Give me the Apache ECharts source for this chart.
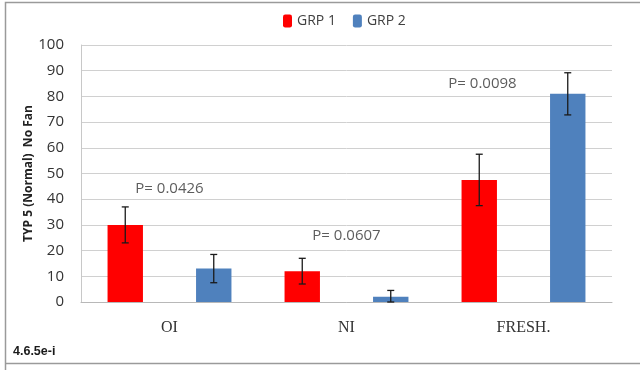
<!DOCTYPE html>
<html>
<head>
<meta charset="utf-8">
<script src="https://cdn.jsdelivr.net/npm/echarts@6/dist/echarts.min.js"></script>
<style>
  html, body { margin: 0; padding: 0; background: #fff; }
  #chart { width: 640px; height: 370px; }
</style>
</head>
<body>
<div id="chart"></div>
<script>
// Group means, error half-widths and p-values per condition
const categories = ['OI', 'NI', 'FRESH.'];
const grp1 = [30, 12, 47.5];
const grp2 = [13, 2, 81];
const grp1Err = [7, 5, 10];
const grp2Err = [5.5, 2.5, 8.2];
const pLabels = ['P= 0.0426', 'P= 0.0607', 'P= 0.0098'];
const pLabelY = [44, 25.7, 85];
const yTicks = [0, 10, 20, 30, 40, 50, 60, 70, 80, 90, 100];

const RED = '#FF0000';
const BLUE = '#4F81BD';
const BAR_W = 0.2;   // fraction of category band
const BAR_GAP = 1.5; // gap between bars, relative to bar width

function errorSeries(values, errs, side) {
  return {
    type: 'custom',
    silent: true,
    z: 5,
    data: values.map((v, i) => [i, v, errs[i]]),
    renderItem: function (params, api) {
      const i = api.value(0), v = api.value(1), e = api.value(2);
      const band = api.size([1, 0])[0];
      const off = side * band * BAR_W * (1 + BAR_GAP) / 2;
      const lo = Math.max(0, v - e);
      const top = api.coord([i, v + e]);
      const bot = api.coord([i, lo]);
      const x = top[0] + off;
      const cap = 3.5;
      const style = { stroke: '#1a1a1a', lineWidth: 1.3 };
      return {
        type: 'group',
        children: [
          { type: 'line', shape: { x1: x, y1: top[1], x2: x, y2: bot[1] }, style },
          { type: 'line', shape: { x1: x - cap, y1: top[1], x2: x + cap, y2: top[1] }, style },
          { type: 'line', shape: { x1: x - cap, y1: bot[1], x2: x + cap, y2: bot[1] }, style }
        ]
      };
    }
  };
}

const chart = echarts.init(document.getElementById('chart'), null, { renderer: 'canvas' });
chart.setOption({
  animation: false,
  backgroundColor: '#fff',
  graphic: [
    {
      type: 'polyline',
      shape: { points: [[5.5, 380], [5.5, 2.5], [645, 2.5]] },
      style: { stroke: '#9a9a9a', lineWidth: 1.5, fill: null }
    },
    {
      type: 'line',
      shape: { x1: 5, y1: 363.5, x2: 645, y2: 363.5 },
      style: { stroke: '#9a9a9a', lineWidth: 1.5 }
    },
    {
      type: 'text',
      left: 13, top: 345,
      style: { text: '4.6.5e-i', font: 'bold 12.5px "Liberation Sans", Arial, sans-serif', fill: '#1a1a1a' }
    }
  ],
  legend: {
    top: 9,
    left: 278,
    itemWidth: 9,
    itemHeight: 13,
    itemGap: 17,
    icon: 'roundRect',
    textStyle: { fontFamily: '"Open Sans", sans-serif', fontSize: 14, color: '#404040' },
    data: ['GRP 1', 'GRP 2']
  },
  grid: { left: 81, right: 28, top: 45, bottom: 68 },
  xAxis: {
    type: 'category',
    data: categories,
    axisLine: { lineStyle: { color: '#b8b8b8', width: 1 } },
    axisTick: { show: false },
    axisLabel: { margin: 18, fontFamily: '"Liberation Serif", "Times New Roman", serif', fontSize: 16, color: '#333' }
  },
  yAxis: {
    type: 'value',
    min: 0,
    max: 100,
    interval: 10,
    name: 'TYP 5 (Normal)  No Fan',
    nameLocation: 'middle',
    nameGap: 46,
    nameMoveOverlap: false,
    nameTextStyle: { fontFamily: '"Open Sans", sans-serif', fontWeight: 'bold', fontSize: 12, color: '#222' },
    axisLine: { show: true, lineStyle: { color: '#c8c8c8' } },
    axisTick: { show: false },
    splitLine: { lineStyle: { color: '#d0d0d0', width: 1 } },
    axisLabel: {
      margin: 17,
      fontFamily: '"Open Sans", sans-serif',
      fontSize: 15,
      color: '#333',
      formatter: v => (yTicks.includes(v) ? String(v) : '')
    }
  },
  series: [
    {
      name: 'GRP 1',
      type: 'bar',
      data: grp1,
      barWidth: (BAR_W * 100) + '%',
      barGap: (BAR_GAP * 100) + '%',
      itemStyle: { color: RED }
    },
    {
      name: 'GRP 2',
      type: 'bar',
      data: grp2,
      barWidth: (BAR_W * 100) + '%',
      itemStyle: { color: BLUE }
    },
    errorSeries(grp1, grp1Err, -1),
    errorSeries(grp2, grp2Err, 1),
    {
      type: 'scatter',
      silent: true,
      symbolSize: 0,
      z: 6,
      data: pLabels.map((t, i) => ({ value: [i, pLabelY[i]], name: t })),
      label: {
        show: true,
        position: 'inside',
        formatter: p => p.name,
        fontFamily: '"Open Sans", sans-serif',
        fontSize: 15,
        color: '#333'
      },
      labelLayout: function (params) {
        return params.dataIndex === 2 ? { dx: -41 } : {};
      }
    }
  ]
});
</script>
</body>
</html>
